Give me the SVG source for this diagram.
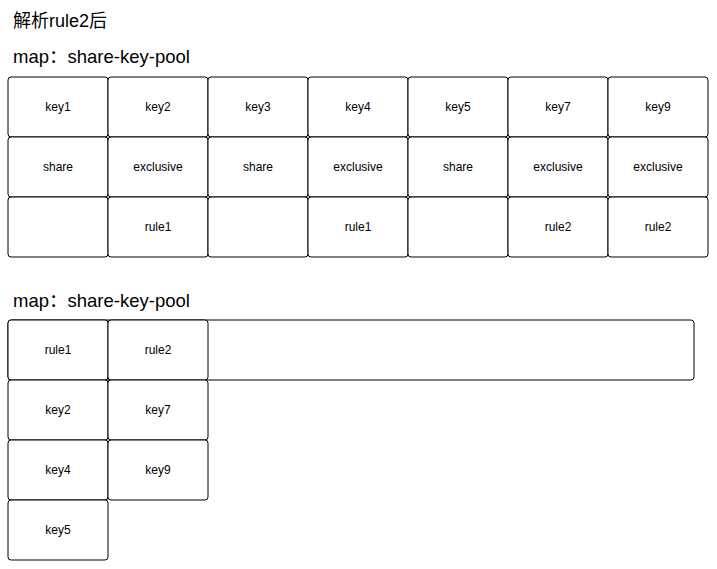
<svg xmlns="http://www.w3.org/2000/svg" width="717" height="569" viewBox="0 0 717 569">
<style>
.c{fill:#fff;stroke:#000;stroke-width:1}
.t{font-family:"Liberation Sans",Arial,sans-serif;font-size:12px;fill:#000;text-anchor:middle;dominant-baseline:central}
.h{font-family:"Liberation Sans","Noto Sans CJK SC",sans-serif;fill:#000}
</style>
<rect width="717" height="569" fill="#fff"/>
<text class="h" x="13" y="27" font-size="18">解析rule2后</text>
<text class="h" x="13" y="63" font-size="18.5">map：share-key-pool</text>
<text class="h" x="13" y="307" font-size="18.5">map：share-key-pool</text>
<g id="table1">
<g id="k1"><rect class="c" x="8" y="77" width="100" height="60" rx="3"/><text class="t" x="58" y="107">key1</text></g>
<g id="k2"><rect class="c" x="108" y="77" width="100" height="60" rx="3"/><text class="t" x="158" y="107">key2</text></g>
<g id="k3"><rect class="c" x="208" y="77" width="100" height="60" rx="3"/><text class="t" x="258" y="107">key3</text></g>
<g id="k4"><rect class="c" x="308" y="77" width="100" height="60" rx="3"/><text class="t" x="358" y="107">key4</text></g>
<g id="k5"><rect class="c" x="408" y="77" width="100" height="60" rx="3"/><text class="t" x="458" y="107">key5</text></g>
<g id="k7"><rect class="c" x="508" y="77" width="100" height="60" rx="3"/><text class="t" x="558" y="107">key7</text></g>
<g id="k9"><rect class="c" x="608" y="77" width="100" height="60" rx="3"/><text class="t" x="658" y="107">key9</text></g>
<g id="s1"><rect class="c" x="8" y="137" width="100" height="60" rx="3"/><text class="t" x="58" y="167">share</text></g>
<g id="s2"><rect class="c" x="108" y="137" width="100" height="60" rx="3"/><text class="t" x="158" y="167">exclusive</text></g>
<g id="s3"><rect class="c" x="208" y="137" width="100" height="60" rx="3"/><text class="t" x="258" y="167">share</text></g>
<g id="s4"><rect class="c" x="308" y="137" width="100" height="60" rx="3"/><text class="t" x="358" y="167">exclusive</text></g>
<g id="s5"><rect class="c" x="408" y="137" width="100" height="60" rx="3"/><text class="t" x="458" y="167">share</text></g>
<g id="s7"><rect class="c" x="508" y="137" width="100" height="60" rx="3"/><text class="t" x="558" y="167">exclusive</text></g>
<g id="s9"><rect class="c" x="608" y="137" width="100" height="60" rx="3"/><text class="t" x="658" y="167">exclusive</text></g>
<g id="r1"><rect class="c" x="8" y="197" width="100" height="60" rx="3"/></g>
<g id="r2"><rect class="c" x="108" y="197" width="100" height="60" rx="3"/><text class="t" x="158" y="227">rule1</text></g>
<g id="r3"><rect class="c" x="208" y="197" width="100" height="60" rx="3"/></g>
<g id="r4"><rect class="c" x="308" y="197" width="100" height="60" rx="3"/><text class="t" x="358" y="227">rule1</text></g>
<g id="r5"><rect class="c" x="408" y="197" width="100" height="60" rx="3"/></g>
<g id="r7"><rect class="c" x="508" y="197" width="100" height="60" rx="3"/><text class="t" x="558" y="227">rule2</text></g>
<g id="r9"><rect class="c" x="608" y="197" width="100" height="60" rx="3"/><text class="t" x="658" y="227">rule2</text></g>
</g>
<g id="table2">
<g id="wide"><rect class="c" x="8" y="320" width="686" height="60" rx="3"/></g>
<g id="rule1"><rect class="c" x="8" y="320" width="100" height="60" rx="3"/><text class="t" x="58" y="350">rule1</text></g>
<g id="rule2"><rect class="c" x="108" y="320" width="100" height="60" rx="3"/><text class="t" x="158" y="350">rule2</text></g>
<g id="b2"><rect class="c" x="8" y="380" width="100" height="60" rx="3"/><text class="t" x="58" y="410">key2</text></g>
<g id="b7"><rect class="c" x="108" y="380" width="100" height="60" rx="3"/><text class="t" x="158" y="410">key7</text></g>
<g id="b4"><rect class="c" x="8" y="440" width="100" height="60" rx="3"/><text class="t" x="58" y="470">key4</text></g>
<g id="b9"><rect class="c" x="108" y="440" width="100" height="60" rx="3"/><text class="t" x="158" y="470">key9</text></g>
<g id="b5"><rect class="c" x="8" y="500" width="100" height="60" rx="3"/><text class="t" x="58" y="530">key5</text></g>
</g>
<g id="connectors"/>
</svg>
